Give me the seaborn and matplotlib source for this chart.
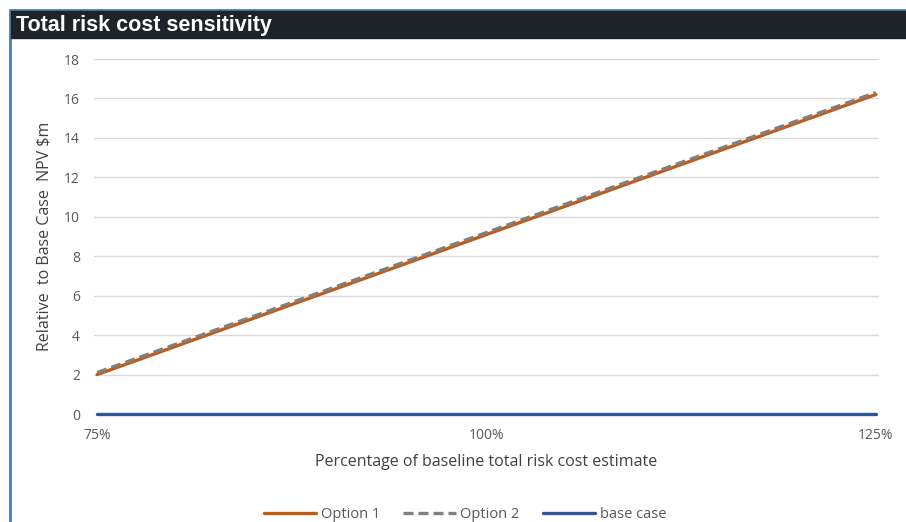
import matplotlib
matplotlib.use("Agg")
import matplotlib.pyplot as plt
import seaborn as sns
import pandas as pd
from matplotlib.patches import Rectangle
from matplotlib.lines import Line2D

# Sensitivity of total risk cost (% of baseline estimate)
pct = [75, 100, 125]
option1 = [2.0, 9.1, 16.2]
option2 = [2.1, 9.2, 16.3]
base_case = [0.0, 0.0, 0.0]
x_ticklabels = ["75%", "100%", "125%"]
y_ticks = [0, 2, 4, 6, 8, 10, 12, 14, 16, 18]

df = pd.DataFrame({
    "pct": pct * 3,
    "value": option1 + option2 + base_case,
    "series": ["Option 1"] * 3 + ["Option 2"] * 3 + ["base case"] * 3,
})

sns.set_theme(style="white")
plt.rcParams["font.family"] = ["Open Sans", "DejaVu Sans"]

W, H = 906, 522
fig = plt.figure(figsize=(W / 100, H / 100), dpi=100)
ax = fig.add_axes([94 / W, 1 - 414 / H, (879 - 94) / W, (414 - 59) / H])

palette = {"Option 1": "#c55a11", "Option 2": "#7f7f7f", "base case": "#2f5597"}
styles = {"Option 1": "", "Option 2": (3, 1.5), "base case": ""}
sns.lineplot(data=df, x="pct", y="value", hue="series", style="series",
             palette=palette, dashes=styles, linewidth=2.4, ax=ax, legend=False)
for ln in ax.get_lines():
    ln.set_clip_on(False)

ax.set_xlim(74.8, 125.2)
ax.set_ylim(0, 18)
ax.set_yticks(y_ticks)
ax.set_xticks(pct)
ax.set_xticklabels(x_ticklabels)
ax.grid(axis="y", color="#d9d9d9", linewidth=1)
ax.set_axisbelow(True)
for s in ax.spines.values():
    s.set_visible(False)
ax.tick_params(axis="both", length=0, labelsize=10, colors="#595959")
ax.tick_params(axis="y", pad=10)
ax.tick_params(axis="x", pad=10)
ax.set_xlabel("Percentage of baseline total risk cost estimate", fontsize=11.5,
              color="#404040", labelpad=8)
ax.set_ylabel("Relative  to Base Case  NPV $m", fontsize=11.5, color="#404040",
              labelpad=8)

# Frame and header band
fig.add_artist(Line2D([10 / W, 10 / W], [0, 1 - 10 / H], color="#4a7ebb",
                      linewidth=2, transform=fig.transFigure))
fig.add_artist(Line2D([10 / W, 1], [1 - 10 / H, 1 - 10 / H], color="#4a7ebb",
                      linewidth=2, transform=fig.transFigure))
fig.add_artist(Rectangle((11 / W, 1 - 38 / H), 1 - 11 / W, 27 / H,
                         transform=fig.transFigure, color="#1e2329", zorder=3))
fig.text(16 / W, 1 - 25 / H, "Total risk cost sensitivity", color="white",
         fontsize=15.5, fontweight="bold", family=["Liberation Sans", "DejaVu Sans"],
         va="center", ha="left", zorder=4)

handles = [
    Line2D([], [], color=palette["Option 1"], linewidth=2.4),
    Line2D([], [], color=palette["Option 2"], linewidth=2.4, dashes=(3, 1.5)),
    Line2D([], [], color=palette["base case"], linewidth=2.4),
]
fig.legend(handles, ["Option 1", "Option 2", "base case"], loc="center",
           bbox_to_anchor=(465 / W, 1 - 515 / H), ncol=3, frameon=False,
           fontsize=10.5, handlelength=3.6, handletextpad=0.3, columnspacing=1.6,
           labelcolor="#595959")

fig.savefig("out.png", dpi=100, facecolor="white")
